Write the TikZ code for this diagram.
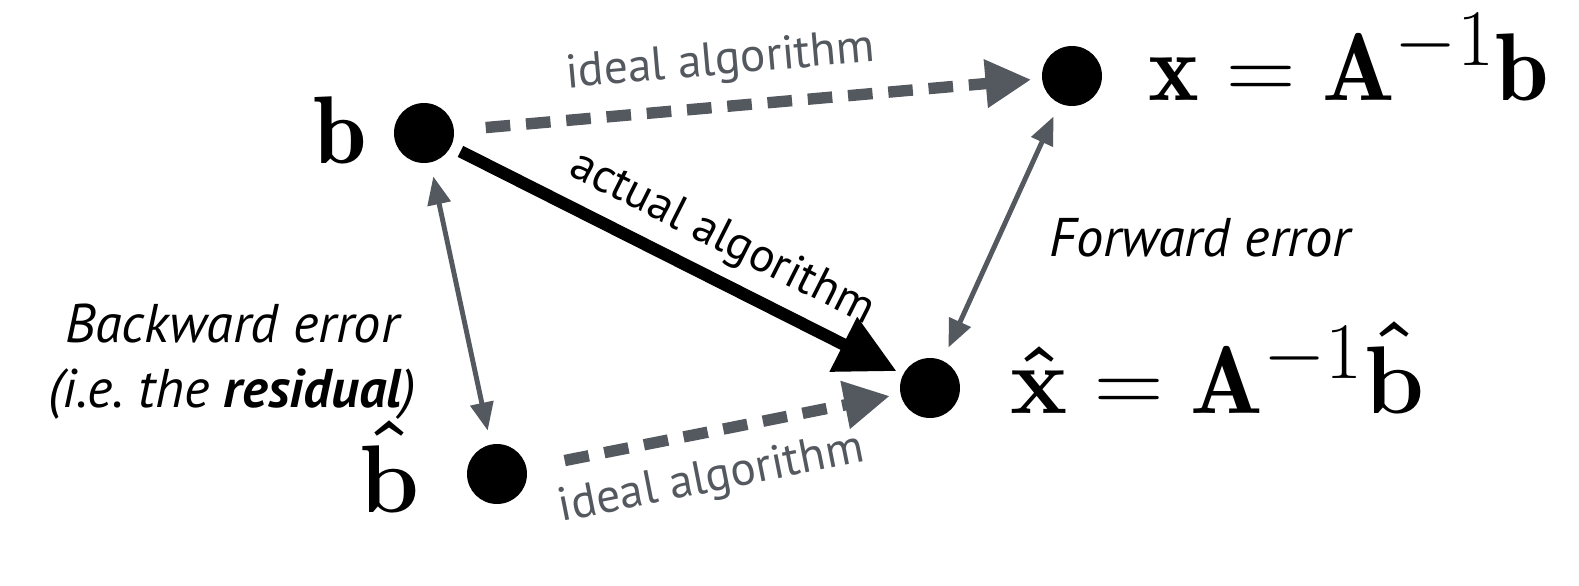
\documentclass[tikz,border=0pt]{standalone}
\usepackage{amsmath}
\usepackage{fontspec}
\setsansfont{PT Sans}
\usetikzlibrary{arrows.meta, positioning}
\definecolor{ArrowGray}{HTML}{54585F}
\tikzset{
  dot/.style={circle, fill=black, inner sep=0pt, minimum size=1.2cm},
  ideal/.style={ArrowGray, line width=6.5pt, dash pattern=on 14pt off 9pt, -{Triangle[length=26pt, width=26pt]}},
  actual/.style={black, line width=7pt, -{Triangle[length=34pt, width=33pt]}},
  errarrow/.style={ArrowGray, line width=2.8pt, {Triangle[length=16pt, width=13pt]}-{Triangle[length=16pt, width=13pt]}},
  tag/.style={font=\sffamily\fontsize{27}{30}\selectfont},
  errtag/.style={font=\sffamily\itshape\fontsize{31}{37}\selectfont, align=center},
  mathtag/.style={font=\Huge, scale=2.2, inner sep=0pt}
}

\begin{document}
\begin{tikzpicture}[x=0.02cm, y=-0.02cm]
    \useasboundingbox (0,0) rectangle (1579,585);

    % the four points
    \node[dot] (b) at (424,133) {};
    \node[dot] (x) at (1072,76) {};
    \node[dot] (xh) at (930,388) {};
    \node[dot] (bh) at (497,474) {};

    % math labels
    \node[mathtag, anchor=base east] (blab) at (368,163) {$\mathbf{b}$};
    \node[mathtag, anchor=base east] (bhlab) at (420,512) {$\boldsymbol{\hat{\mathbf{b}}}$};
    \node[mathtag, anchor=base west] (xlab) at (1148,100) {$\mathbf{x}=\mathbf{A}^{-1}\mathbf{b}$};
    \node[mathtag, anchor=base west] (xhlab) at (1010,413) {$\boldsymbol{\hat{\mathbf{x}}}=\mathbf{A}^{-1}\boldsymbol{\hat{\mathbf{b}}}$};

    % algorithms
    \draw[ideal, shorten <=18pt, shorten >=6pt] (b) -- node[tag, ArrowGray, sloped, above=6pt, pos=0.46] (topalg) {ideal algorithm} (x);
    \draw[actual, shorten <=6pt, shorten >=4pt] (b) -- node[tag, sloped, above=3pt, pos=0.56] (actalg) {actual algorithm} (xh);
    \draw[ideal, shorten <=22pt, shorten >=6pt] (bh) -- node[tag, ArrowGray, sloped, below=8pt, pos=0.47] (botalg) {ideal algorithm} (xh);

    % errors
    \draw[errarrow, shorten <=8pt, shorten >=8pt] (x) -- (xh);
    \draw[errarrow, shorten <=8pt, shorten >=8pt] (b) -- (bh);
    \node[errtag] (fwd) at (1200,238) {Forward error};
    \node[errtag] (bwd) at (232,362) {Backward error\\(i.e.\ the \textbf{residual})};
\end{tikzpicture}
\end{document}
